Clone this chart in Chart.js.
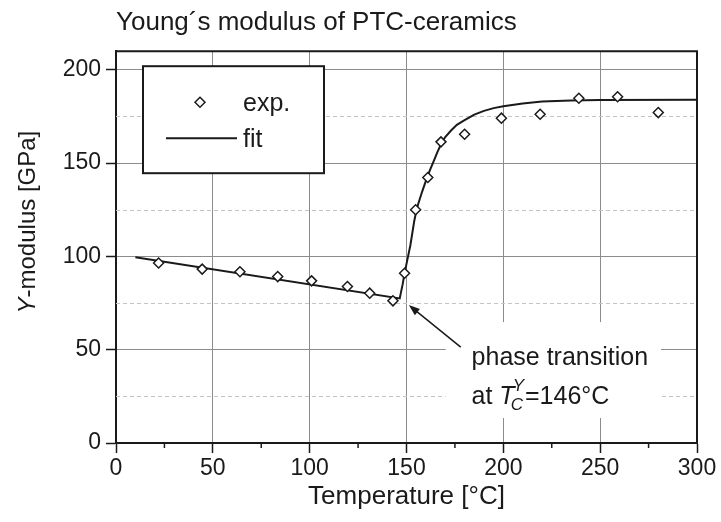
<!DOCTYPE html>
<html>
<head>
<meta charset="utf-8">
<title>Young´s modulus of PTC-ceramics</title>
<script src="https://cdn.jsdelivr.net/npm/chart.js@4/dist/chart.umd.min.js"></script>
<style>
  html, body { margin: 0; padding: 0; background: #ffffff; }
  #wrap { width: 721px; height: 522px; }
</style>
</head>
<body>
<div id="wrap"><canvas id="c" width="721" height="522"></canvas></div>
<script>
// Measured Young's modulus (GPa) against temperature (°C)
const tempExp    = [22, 44.5, 64, 83.5, 101, 119.5, 131, 143, 149, 154.7, 161, 167.8, 180, 199, 219, 239, 259, 280];
const modulusExp = [96.5, 93.2, 91.8, 89.2, 86.9, 83.9, 80.3, 76.2, 91, 125, 142.3, 161.4, 165.5, 174.1, 176.2, 184.8, 185.6, 177.1];

// Fitted curve: linear decrease below the transition, saturating rise above it
const tempFit    = [10, 146.5, 148, 149, 150, 152, 154, 155, 156, 158, 160, 162, 164, 166, 168, 170, 173, 176, 180, 185, 190, 195, 200, 210, 220, 235, 250, 300];
const modulusFit = [99.5, 77.5, 85, 91, 96, 106, 119, 124, 128, 134.5, 140.5, 146, 151, 156, 160.5, 164, 167.5, 170.5, 173, 176, 178, 179.5, 180.5, 182, 183, 183.6, 183.8, 184];

// Axis ticks
const xMajorTicks = [0, 50, 100, 150, 200, 250, 300];
const xMinorTicks = [25, 75, 125, 175, 225, 275];
const yMajorTicks = [0, 50, 100, 150, 200];
const yMinorTicks = [25, 75, 125, 175];

// Phase-transition note, placed in data units
const note = {
  tip:  [151.2, 73.9],
  tail: [178, 51.4],
  text: [183.6, 41.8],
  line2: [183.6, 20.9],
  box:  [170.2, 64.8, 281.4, 13.4]
};

const FONT = '"Liberation Sans", Arial, Helvetica, sans-serif';
const INK = '#1a1a1a';

const toXY = (xs, ys) => xs.map((v, i) => ({ x: v, y: ys[i] }));

const decor = {
  id: 'decor',
  beforeDatasetsDraw(chart) {
    const { ctx, chartArea: a, scales: { x, y } } = chart;
    ctx.save();
    // dashed minor grid lines
    ctx.strokeStyle = '#c4c4c4';
    ctx.lineWidth = 1;
    ctx.setLineDash([4, 3]);
    yMinorTicks.forEach(v => {
      const py = Math.round(y.getPixelForValue(v)) + 0.5;
      ctx.beginPath(); ctx.moveTo(a.left, py); ctx.lineTo(a.right, py); ctx.stroke();
    });
    ctx.setLineDash([]);

    // white backing behind the note text
    const bx0 = x.getPixelForValue(note.box[0]), by0 = y.getPixelForValue(note.box[1]);
    const bx1 = x.getPixelForValue(note.box[2]), by1 = y.getPixelForValue(note.box[3]);
    ctx.fillStyle = '#ffffff';
    ctx.fillRect(bx0, by0, bx1 - bx0, by1 - by0);

    // arrow
    const tx = x.getPixelForValue(note.tip[0]), ty = y.getPixelForValue(note.tip[1]);
    const sx = x.getPixelForValue(note.tail[0]), sy = y.getPixelForValue(note.tail[1]);
    const ang = Math.atan2(ty - sy, tx - sx);
    ctx.strokeStyle = INK; ctx.fillStyle = INK; ctx.lineWidth = 1.5;
    ctx.beginPath(); ctx.moveTo(sx, sy);
    ctx.lineTo(tx - 8 * Math.cos(ang), ty - 8 * Math.sin(ang)); ctx.stroke();
    ctx.beginPath();
    ctx.moveTo(tx, ty);
    ctx.lineTo(tx - 11 * Math.cos(ang) + 4 * Math.sin(ang), ty - 11 * Math.sin(ang) - 4 * Math.cos(ang));
    ctx.lineTo(tx - 11 * Math.cos(ang) - 4 * Math.sin(ang), ty - 11 * Math.sin(ang) + 4 * Math.cos(ang));
    ctx.closePath(); ctx.fill();

    // note text
    ctx.textBaseline = 'alphabetic';
    ctx.textAlign = 'left';
    const lx = x.getPixelForValue(note.text[0]);
    ctx.font = '25px ' + FONT;
    ctx.fillText('phase transition', lx, y.getPixelForValue(note.text[1]));
    const l2 = y.getPixelForValue(note.line2[1]);
    let cx = lx;
    ctx.fillText('at ', cx, l2); cx += ctx.measureText('at ').width;
    ctx.font = 'italic 25px ' + FONT;
    ctx.fillText('T', cx, l2); cx += ctx.measureText('T').width;
    ctx.font = 'italic 17px ' + FONT;
    ctx.fillText('Y', cx - 2, l2 - 13);
    ctx.fillText('C', cx - 4, l2 + 6);
    cx += Math.max(ctx.measureText('Y').width - 2, ctx.measureText('C').width - 4) + 1;
    ctx.font = '25px ' + FONT;
    ctx.fillText('=146°C', cx, l2);
    ctx.restore();
  },
  afterDraw(chart) {
    const { ctx, chartArea: a, scales: { x } } = chart;
    ctx.save();
    // frame: top and right edges
    ctx.strokeStyle = INK; ctx.lineWidth = 2;
    ctx.beginPath();
    ctx.moveTo(a.left - 1, a.top); ctx.lineTo(a.right, a.top); ctx.lineTo(a.right, a.bottom + 1);
    ctx.stroke();

    // minor ticks on the temperature axis
    ctx.lineWidth = 1.5;
    xMinorTicks.forEach(v => {
      const px = x.getPixelForValue(v);
      ctx.beginPath(); ctx.moveTo(px, a.bottom); ctx.lineTo(px, a.bottom + 5); ctx.stroke();
    });

    // legend box
    const L = a.left + 27, T = a.top + 15, W = 181, H = 107;
    ctx.fillStyle = '#ffffff';
    ctx.fillRect(L, T, W, H);
    ctx.strokeStyle = INK; ctx.lineWidth = 2;
    ctx.strokeRect(L, T, W, H);
    // exp. marker
    const mx = L + 57, my = T + 36, r = 5;
    ctx.lineWidth = 1.5;
    ctx.beginPath();
    ctx.moveTo(mx, my - r); ctx.lineTo(mx + r, my); ctx.lineTo(mx, my + r); ctx.lineTo(mx - r, my); ctx.closePath();
    ctx.fillStyle = '#ffffff'; ctx.fill(); ctx.stroke();
    // fit line sample
    ctx.lineWidth = 2;
    ctx.beginPath(); ctx.moveTo(L + 23, T + 72); ctx.lineTo(L + 94, T + 72); ctx.stroke();
    ctx.fillStyle = INK;
    ctx.font = '25px ' + FONT;
    ctx.textBaseline = 'alphabetic';
    ctx.fillText('exp.', L + 100, T + 45);
    ctx.fillText('fit', L + 100, T + 81);

    // vertical axis title with italic Y
    const f1 = 'italic 24px ' + FONT, f2 = '24px ' + FONT;
    ctx.translate(28, (a.top + a.bottom) / 2 - 25);
    ctx.rotate(-Math.PI / 2);
    ctx.font = f1; const w1 = ctx.measureText('Y').width;
    ctx.font = f2; const w2 = ctx.measureText('-modulus [GPa]').width;
    const s = -(w1 + w2) / 2;
    ctx.textBaseline = 'middle';
    ctx.font = f1; ctx.fillText('Y', s, 0);
    ctx.font = f2; ctx.fillText('-modulus [GPa]', s + w1, 0);
    ctx.restore();
  }
};

new Chart(document.getElementById('c'), {
  type: 'scatter',
  data: {
    datasets: [
      {
        label: 'exp.',
        data: toXY(tempExp, modulusExp),
        showLine: false,
        pointStyle: 'rectRot',
        pointRadius: 5,
        pointBorderWidth: 1.5,
        pointBorderColor: INK,
        pointBackgroundColor: '#ffffff',
        order: 0
      },
      {
        label: 'fit',
        data: toXY(tempFit, modulusFit),
        showLine: true,
        borderColor: INK,
        borderWidth: 2,
        pointRadius: 0,
        tension: 0,
        order: 1
      }
    ]
  },
  options: {
    responsive: false,
    animation: false,
    events: [],
    layout: { padding: { left: 0, right: 24, top: 0, bottom: 0 } },
    plugins: {
      legend: { display: false },
      tooltip: { enabled: false },
      title: {
        display: true,
        text: 'Young´s modulus of PTC-ceramics',
        align: 'start',
        fullSize: false,
        color: INK,
        font: { family: FONT, size: 26, weight: 'normal' },
        padding: { top: 7, bottom: 13 }
      }
    },
    scales: {
      x: {
        type: 'linear',
        min: 0, max: 300,
        afterFit(scale) { scale.height = 79; },
        afterBuildTicks(scale) { scale.ticks = xMajorTicks.map(v => ({ value: v })); },
        ticks: { color: INK, font: { family: FONT, size: 23 }, padding: 2, maxRotation: 0 },
        grid: { color: '#8c8c8c', lineWidth: 1, tickColor: INK, tickLength: 10, tickWidth: 1.5 },
        border: { color: INK, width: 2 },
        title: {
          display: true,
          text: 'Temperature [°C]',
          color: INK,
          font: { family: FONT, size: 26 },
          padding: { top: 0, bottom: 10 }
        }
      },
      y: {
        type: 'linear',
        min: 0, max: 210,
        afterFit(scale) { scale.width = 116; },
        afterBuildTicks(scale) { scale.ticks = yMajorTicks.map(v => ({ value: v })); },
        ticks: { color: INK, font: { family: FONT, size: 23 }, padding: 5 },
        grid: { color: '#8c8c8c', lineWidth: 1, tickColor: INK, tickLength: 10, tickWidth: 1.5 },
        border: { color: INK, width: 2 }
      }
    }
  },
  plugins: [decor]
});
</script>
</body>
</html>
